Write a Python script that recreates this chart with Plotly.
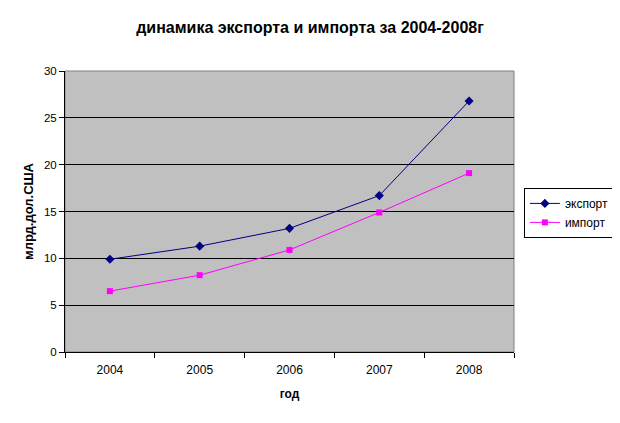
import plotly.graph_objects as go

years = ["2004", "2005", "2006", "2007", "2008"]
export_vals = [9.9, 11.3, 13.2, 16.7, 26.8]
import_vals = [6.5, 8.2, 10.9, 14.9, 19.1]
y_ticks = [0, 5, 10, 15, 20, 25, 30]

FONT = "Liberation Sans, Arial, sans-serif"

# The page body adds an 8px offset, so the figure is 612x415 and drawn at (8, 8).
W, H = 612, 415

fig = go.Figure()
fig.add_trace(go.Scatter(
    x=years, y=export_vals, name="экспорт", mode="lines+markers",
    line=dict(color="#000080", width=1),
    marker=dict(symbol="diamond", size=7, color="#000080"),
))
fig.add_trace(go.Scatter(
    x=years, y=import_vals, name="импорт", mode="lines+markers",
    line=dict(color="#FF00FF", width=1),
    marker=dict(symbol="square", size=6, color="#FF00FF"),
))

fig.update_layout(
    width=W, height=H,
    margin=dict(l=57, r=106, t=63, b=71, autoexpand=False),
    paper_bgcolor="white", plot_bgcolor="#C0C0C0",
    font=dict(family=FONT, size=11.5, color="black"),
    title=dict(text="<b>динамика экспорта и импорта за 2004-2008г</b>",
               x=302 / W, xref="container", xanchor="center", y=1 - 19 / H, yanchor="middle",
               font=dict(size=16, family=FONT)),
    showlegend=True,
    legend=dict(x=1.022, y=0.584, xanchor="left", yanchor="top",
                bgcolor="white", bordercolor="black", borderwidth=1,
                itemwidth=30,
                font=dict(size=12, family=FONT), tracegroupgap=2),
    xaxis=dict(type="category", tickson="boundaries", ticks="outside", ticklen=5,
               tickcolor="black", showline=True, linecolor="black", linewidth=1,
               showgrid=False, range=[-0.5, 4.5], automargin=False,
               tickfont=dict(size=12), ticklabelstandoff=7,
               title=dict(text="<b>год</b>", font=dict(size=12), standoff=13)),
    yaxis=dict(range=[0, 30], tickvals=y_ticks, ticks="outside", ticklen=5,
               tickcolor="black", showline=True, linecolor="black", linewidth=1,
               showgrid=True, gridcolor="black", gridwidth=1, zeroline=False,
               automargin=False,
               title=dict(text="<b>млрд.дол.США</b>", font=dict(size=13), standoff=7)),
    shapes=[dict(type="rect", xref="paper", yref="paper", x0=0, x1=1, y0=0, y1=1,
                 line=dict(color="#808080", width=1), layer="below")],
)

fig.write_html("out.html")
